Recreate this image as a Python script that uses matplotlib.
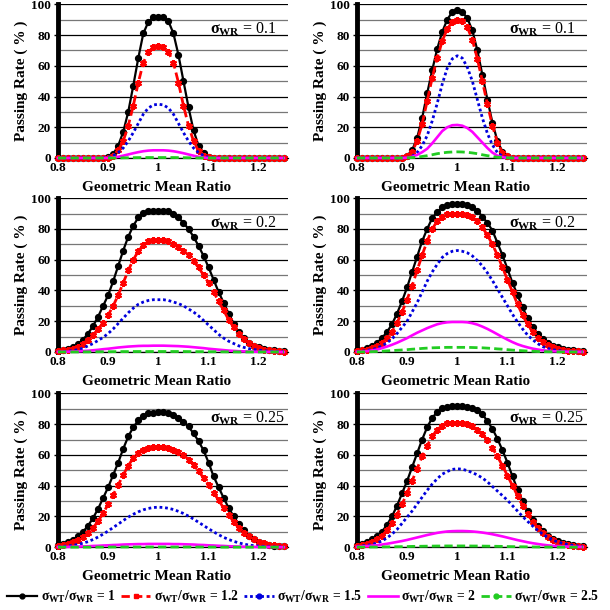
import numpy as np
import matplotlib
matplotlib.use("Agg")
import matplotlib.pyplot as plt
from matplotlib.lines import Line2D

plt.rcParams['font.family'] = ['Liberation Serif', 'DejaVu Serif']
plt.rcParams['mathtext.fontset'] = 'custom'
plt.rcParams['mathtext.rm'] = 'Liberation Serif:bold'
plt.rcParams['mathtext.it'] = 'Liberation Serif:bold'
plt.rcParams['mathtext.bf'] = 'Liberation Serif:bold'

# geometric mean ratio grid
gmr = [0.80, 0.81, 0.82, 0.83, 0.84, 0.85, 0.86, 0.87, 0.88, 0.89,
       0.90, 0.91, 0.92, 0.93, 0.94, 0.95, 0.96, 0.97, 0.98, 0.99,
       1.00, 1.01, 1.02, 1.03, 1.04, 1.05, 1.06, 1.07, 1.08, 1.09,
       1.10, 1.11, 1.12, 1.13, 1.14, 1.15, 1.16, 1.17, 1.18, 1.19,
       1.20, 1.21, 1.22, 1.23, 1.24, 1.25]

ratio_labels = ['1', '1.2', '1.5', '2', '2.5']
sigma_labels = ['0.1', '0.1', '0.2', '0.2', '0.25', '0.25']

# panel 1: top left, sigma_WR = 0.1
p1_r10 = [0, 0, 0, 0, 0, 0, 0, 0, 0, 0,
          0.5, 2.5, 8, 17, 30, 47, 65, 81, 88.5, 91.5,
          92, 91.5, 89, 81, 67, 50, 33, 18, 8, 3,
          0.8, 0, 0, 0, 0, 0, 0, 0, 0, 0, 0, 0, 0, 0, 0, 0]
p1_r12 = [0, 0, 0, 0, 0, 0, 0, 0, 0, 0,
          0.3, 1.5, 5, 11, 21, 34, 49, 62, 69, 72,
          73, 72, 69, 62, 49, 34, 21, 11, 4.5, 1.5,
          0.4, 0, 0, 0, 0, 0, 0, 0, 0, 0, 0, 0, 0, 0, 0, 0]
p1_r15 = [0, 0, 0, 0, 0, 0, 0, 0, 0, 0.1,
          0.5, 1.5, 3.5, 6.5, 11, 16.5, 22.5, 28.5, 32.5, 34.5,
          35, 34.5, 32.5, 28.5, 22.5, 16.5, 11, 6.5, 3.5, 1.5,
          0.5, 0.1, 0, 0, 0, 0, 0, 0, 0, 0, 0, 0, 0, 0, 0, 0]
p1_r20 = [0, 0, 0, 0, 0, 0, 0, 0, 0, 0,
          0, 0.3, 0.8, 1.5, 2.3, 3.1, 3.8, 4.4, 4.8, 5,
          5, 5, 4.8, 4.4, 3.8, 3.1, 2.3, 1.5, 0.8, 0.3,
          0, 0, 0, 0, 0, 0, 0, 0, 0, 0, 0, 0, 0, 0, 0, 0]
p1_r25 = [0, 0, 0, 0, 0, 0, 0, 0, 0, 0,
          0, 0, 0, 0.1, 0.15, 0.2, 0.25, 0.3, 0.3, 0.3,
          0.3, 0.3, 0.3, 0.3, 0.25, 0.2, 0.15, 0.1, 0, 0,
          0, 0, 0, 0, 0, 0, 0, 0, 0, 0, 0, 0, 0, 0, 0, 0]

# panel 2: top right, sigma_WR = 0.1
p2_r10 = [0, 0, 0, 0, 0, 0, 0, 0, 0, 0,
          1.5, 5, 13, 26, 42, 57, 71, 82, 90, 95,
          96.5, 95, 91, 83, 70, 54, 38, 23, 11, 4,
          1.2, 0.3, 0, 0, 0, 0, 0, 0, 0, 0, 0, 0, 0, 0, 0, 0]
p2_r12 = [0, 0, 0, 0, 0, 0, 0, 0, 0, 0,
          1, 4, 11, 22, 37, 52, 65, 76, 84, 88.5,
          90, 89, 85, 77, 64.5, 50, 35, 21, 10, 3.5,
          1, 0.2, 0, 0, 0, 0, 0, 0, 0, 0, 0, 0, 0, 0, 0, 0]
p2_r15 = [0, 0, 0, 0, 0, 0, 0, 0, 0, 0,
          0.3, 1, 3.5, 8, 14.5, 24, 35.5, 48, 58.5, 64.5,
          66.5, 65, 59, 50, 38, 26, 16, 8.5, 3.5, 1.2,
          0.3, 0, 0, 0, 0, 0, 0, 0, 0, 0, 0, 0, 0, 0, 0, 0]
p2_r20 = [0, 0, 0, 0, 0, 0, 0, 0, 0, 0,
          0.2, 0.8, 2, 3.8, 6, 9.5, 13.5, 17.5, 20, 21.3,
          21.5, 21, 19.5, 17, 13.5, 10, 6.5, 3.5, 1.5, 0.5,
          0.1, 0, 0, 0, 0, 0, 0, 0, 0, 0, 0, 0, 0, 0, 0, 0]
p2_r25 = [0, 0, 0, 0, 0, 0, 0, 0, 0, 0,
          0.1, 0.3, 0.5, 1, 1.5, 2.1, 2.8, 3.3, 3.7, 3.9,
          4, 3.9, 3.7, 3.3, 2.8, 2.1, 1.5, 1, 0.5, 0.3,
          0.1, 0, 0, 0, 0, 0, 0, 0, 0, 0, 0, 0, 0, 0, 0, 0]

# panel 3: middle left, sigma_WR = 0.2
p3_r10 = [1, 1.5, 2, 3, 5, 8, 12, 17, 23, 30,
          37, 46, 56, 66, 75, 82, 87.5, 90.5, 91.5, 92,
          92, 92, 91.5, 90, 87.5, 84, 80, 75, 69, 62.5,
          55, 47, 39, 32, 25, 18.5, 13, 9, 6, 4,
          3, 2, 1.5, 1, 0.7, 0.5]
p3_r12 = [0.5, 1, 1.5, 2, 3.5, 5.5, 8, 11, 15, 19,
          24, 30, 37, 45, 53, 60, 65.5, 69.5, 72, 73,
          73, 73, 72, 70.5, 68.5, 66, 63, 59, 55, 50,
          45, 39, 33, 27, 21, 16, 12, 8.5, 6, 4,
          2.5, 1.5, 1, 0.6, 0.4, 0.3]
p3_r15 = [0.2, 0.3, 0.5, 1, 1.5, 2.5, 4, 5.5, 7.5, 9.5,
          12, 15, 18.5, 22, 25.5, 28.5, 31, 32.5, 33.5, 34,
          34, 34, 33.5, 32.5, 31.5, 30, 28, 26, 23.5, 20.5,
          17.5, 14.5, 11.5, 9, 7, 5.5, 4, 3, 2.2, 1.6,
          1.2, 0.8, 0.5, 0.3, 0.2, 0.1]
p3_r20 = [0.1, 0.1, 0.2, 0.3, 0.4, 0.6, 0.8, 1.1, 1.4, 1.8,
          2.1, 2.5, 2.9, 3.2, 3.5, 3.7, 3.9, 4, 4, 4.1,
          4.1, 4.1, 4, 3.9, 3.8, 3.6, 3.4, 3.1, 2.8, 2.5,
          2.1, 1.8, 1.5, 1.2, 0.9, 0.7, 0.5, 0.4, 0.3, 0.2,
          0.1, 0.1, 0.1, 0, 0, 0]
p3_r25 = [0, 0, 0, 0, 0, 0.05, 0.05, 0.1, 0.1, 0.15,
          0.15, 0.2, 0.2, 0.25, 0.25, 0.3, 0.3, 0.3, 0.3, 0.3,
          0.3, 0.3, 0.3, 0.3, 0.3, 0.3, 0.25, 0.25, 0.2, 0.2,
          0.15, 0.15, 0.1, 0.1, 0.05, 0.05, 0, 0, 0, 0,
          0, 0, 0, 0, 0, 0]

# panel 4: middle right, sigma_WR = 0.2
p4_r10 = [1, 1.5, 2.5, 4, 6, 9, 13, 18, 25, 33,
          42, 52, 62, 72, 80, 87, 91, 94, 95.5, 96,
          96, 96, 95.5, 94, 92, 88, 84, 79, 71, 63,
          54, 45, 37, 29, 22, 16, 12, 8.5, 6, 4,
          3, 2, 1.5, 1, 0.8, 0.5]
p4_r12 = [0.5, 1, 1.5, 2.5, 4, 6, 9, 13, 19, 26,
          34, 43, 53, 63, 72, 80, 85, 88, 89.5, 90,
          90, 90, 89, 87.5, 85, 81, 76, 70, 63, 55,
          47, 39, 31, 24, 18, 13, 9, 6.5, 4.5, 3,
          2, 1.3, 0.9, 0.6, 0.4, 0.3]
p4_r15 = [0.3, 0.5, 1, 1.5, 2.5, 4, 6, 8.5, 12, 16,
          20, 26, 32, 39, 46, 52, 57, 61.5, 64, 65.5,
          66, 65.5, 64.5, 62.5, 59.5, 56, 51.5, 46.5, 41, 35.5,
          30, 24.5, 19.5, 15, 11, 8, 5.5, 3.5, 2.3, 1.5,
          1, 0.6, 0.4, 0.2, 0.1, 0.1]
p4_r20 = [0.2, 0.3, 0.5, 1, 1.5, 2.5, 3.5, 4.7, 6, 7.5,
          9, 10.8, 12.5, 14, 15.5, 16.8, 18, 18.8, 19.3, 19.5,
          19.5, 19.5, 19.3, 18.7, 17.8, 16.5, 15, 13.3, 11.5, 9.7,
          8, 6.4, 5, 3.9, 3, 2.2, 1.6, 1.1, 0.8, 0.5,
          0.4, 0.3, 0.2, 0.1, 0.1, 0.1]
p4_r25 = [0, 0.05, 0.1, 0.2, 0.3, 0.5, 0.7, 0.9, 1.1, 1.3,
          1.5, 1.8, 2, 2.3, 2.5, 2.7, 2.8, 2.9, 3, 3,
          3, 3, 3, 2.9, 2.8, 2.7, 2.5, 2.3, 2, 1.8,
          1.5, 1.2, 1, 0.8, 0.6, 0.5, 0.3, 0.2, 0.15, 0.1,
          0.05, 0, 0, 0, 0, 0]

# panel 5: bottom left, sigma_WR = 0.25
p5_r10 = [1.5, 2.2, 3.2, 4.8, 7, 10, 14, 19, 25, 32,
          39, 47, 55, 64, 72, 78, 82.5, 85.5, 87, 87.5,
          88, 88, 87, 86, 84, 81.5, 78.5, 74, 69, 63,
          55, 46, 39, 32, 25.5, 20, 15, 11, 7.5, 5,
          3.5, 2.3, 1.5, 1, 0.7, 0.5]
p5_r12 = [1, 1.5, 2.2, 3.2, 4.6, 6.5, 9, 12.5, 17, 22,
          28, 34, 40.5, 47, 53, 58, 61.5, 63.5, 64.5, 65,
          65, 65, 64.5, 63.5, 62, 60, 57, 53.5, 49.5, 45,
          40.5, 35.5, 30.5, 25.5, 21, 16.5, 12.5, 9.5, 7, 5,
          3.5, 2.4, 1.6, 1.1, 0.7, 0.5]
p5_r15 = [0.3, 0.5, 0.8, 1.2, 1.8, 2.6, 3.6, 5, 6.6, 8.5,
          10.5, 12.8, 15, 17.3, 19.5, 21.4, 23, 24.3, 25.2, 25.8,
          26, 25.8, 25.3, 24.5, 23.3, 21.9, 20.2, 18.3, 16.2, 14.1,
          12, 10, 8.1, 6.4, 5, 3.8, 2.8, 2, 1.4, 1,
          0.7, 0.5, 0.3, 0.2, 0.15, 0.1]
p5_r20 = [0.1, 0.1, 0.2, 0.3, 0.4, 0.5, 0.6, 0.8, 0.9, 1.1,
          1.2, 1.4, 1.5, 1.7, 1.8, 1.9, 2, 2, 2.1, 2.1,
          2.1, 2.1, 2.1, 2, 2, 1.9, 1.8, 1.7, 1.5, 1.4,
          1.2, 1.1, 0.9, 0.8, 0.6, 0.5, 0.4, 0.3, 0.2, 0.2,
          0.1, 0.1, 0.1, 0, 0, 0]
p5_r25 = [0, 0, 0, 0, 0, 0, 0, 0, 0.05, 0.05,
          0.05, 0.1, 0.1, 0.1, 0.1, 0.1, 0.1, 0.1, 0.1, 0.1,
          0.1, 0.1, 0.1, 0.1, 0.1, 0.1, 0.1, 0.1, 0.1, 0.1,
          0.05, 0.05, 0.05, 0, 0, 0, 0, 0, 0, 0,
          0, 0, 0, 0, 0, 0]

# panel 6: bottom right, sigma_WR = 0.25
p6_r10 = [1.5, 2.3, 3.5, 5, 7, 10, 14.5, 20, 27, 35,
          43, 52, 61, 70, 78, 84, 88, 90.5, 91.5, 92,
          92, 92, 91.5, 90.5, 89, 86.5, 82, 77, 70.5, 63,
          55, 46, 37.5, 30, 23.5, 18, 14, 10.5, 7.5, 5.5,
          4, 2.8, 2, 1.4, 1, 0.7]
p6_r12 = [1, 1.5, 2.3, 3.4, 5, 7.5, 11, 15.5, 21, 28,
          35, 43, 51, 59, 66, 72, 76.5, 79, 80.5, 81,
          81, 81, 80, 78.5, 76.5, 73.5, 69.5, 64.5, 59, 53,
          46.5, 40, 33.5, 27, 21.5, 16.5, 12.5, 9, 6.5, 4.5,
          3, 2, 1.4, 0.9, 0.6, 0.4]
p6_r15 = [0.5, 0.8, 1.2, 1.8, 2.7, 4, 6, 8.5, 11.5, 15.5,
          19.5, 23.5, 28, 32.5, 37, 41, 44.5, 47.5, 49.2, 50.6,
          51, 50.7, 49.8, 48.5, 47, 45, 42.5, 39.5, 36.5, 33.5,
          30.5, 27, 23.5, 20, 16.8, 13.8, 11, 8.5, 6.4, 4.7,
          3.4, 2.4, 1.7, 1.2, 0.8, 0.5]
p6_r20 = [0.3, 0.5, 0.7, 1, 1.3, 1.7, 2.2, 2.8, 3.4, 4,
          4.7, 5.5, 6.3, 7.1, 7.9, 8.6, 9.3, 9.8, 10.2, 10.4,
          10.5, 10.5, 10.4, 10.2, 9.9, 9.5, 9, 8.4, 7.7, 7,
          6.2, 5.4, 4.6, 3.9, 3.2, 2.6, 2.1, 1.6, 1.2, 0.9,
          0.7, 0.5, 0.4, 0.3, 0.2, 0.1]
p6_r25 = [0, 0.05, 0.05, 0.1, 0.1, 0.15, 0.2, 0.25, 0.3, 0.35,
          0.4, 0.5, 0.55, 0.6, 0.65, 0.7, 0.75, 0.75, 0.8, 0.8,
          0.8, 0.8, 0.8, 0.75, 0.75, 0.7, 0.65, 0.6, 0.55, 0.5,
          0.4, 0.35, 0.3, 0.25, 0.2, 0.15, 0.1, 0.1, 0.05, 0.05,
          0, 0, 0, 0, 0, 0]

panels = [
    [p1_r10, p1_r12, p1_r15, p1_r20, p1_r25],
    [p2_r10, p2_r12, p2_r15, p2_r20, p2_r25],
    [p3_r10, p3_r12, p3_r15, p3_r20, p3_r25],
    [p4_r10, p4_r12, p4_r15, p4_r20, p4_r25],
    [p5_r10, p5_r12, p5_r15, p5_r20, p5_r25],
    [p6_r10, p6_r12, p6_r15, p6_r20, p6_r25],
]

# line styles for the five sigma_WT/sigma_WR ratios
styles = [
    dict(color='black', ls='-', lw=1.6, marker='o', ms=4.2),
    dict(color='#ff0000', ls=(0, (3, 1.5)), lw=2.0, marker=(6, 2, 0), ms=5, mew=1.5),
    dict(color='#0000dd', ls=(0, (1, 1)), lw=2.0),
    dict(color='#ff00ff', ls='-', lw=1.9),
    dict(color='#22cc22', ls=(0, (3, 1.5)), lw=2.0),
]
# legend entries show a small marker on every line except magenta
leg_markers = ['o', 's', 'o', None, 'o']

fig = plt.figure(figsize=(6.1, 6.1), dpi=100)

lefts = [0.095, 0.585]
bottoms = [0.741, 0.423, 0.103]
w, h = 0.377, 0.252

for i, series in enumerate(panels):
    ax = fig.add_axes([lefts[i % 2], bottoms[i // 2], w, h])
    for j, yv in enumerate(series):
        ax.plot(gmr, yv, clip_on=False, zorder=3 + j, **styles[j])
    ax.set_xlim(0.8, 1.258)
    ax.set_ylim(0, 100)
    ax.set_yticks(np.arange(0, 101, 20))
    ax.set_yticks(np.arange(10, 100, 20), minor=True)
    ax.set_xticks([0.8, 0.9, 1.0, 1.1, 1.2])
    ax.set_xticklabels(['0.8', '0.9', '1', '1.1', '1.2'])
    ax.grid(axis='y', which='major', color='black', lw=0.9)
    ax.grid(axis='y', which='minor', color='#777777', lw=0.9)
    ax.set_axisbelow(True)
    for s in ['top', 'right']:
        ax.spines[s].set_visible(False)
    ax.spines['left'].set_linewidth(3.5)
    ax.spines['bottom'].set_linewidth(0.9)
    ax.tick_params(axis='y', which='minor', length=0)
    ax.tick_params(axis='y', which='major', length=3, width=1, pad=2)
    ax.tick_params(axis='x', length=0, pad=3)
    for t in ax.get_xticklabels() + ax.get_yticklabels():
        t.set_fontweight('bold')
        t.set_fontsize(9.5)
    ax.set_xlabel('Geometric Mean Ratio', fontsize=11, fontweight='bold')
    ax.xaxis.set_label_coords(0.43, -0.15)
    ax.set_ylabel('Passing Rate ( % )', fontsize=11, fontweight='bold')
    ax.yaxis.set_label_coords(-0.13, 0.5)
    ax.text(0.66, 0.84, r'$\sigma_{WR}$ = ' + sigma_labels[i], transform=ax.transAxes,
            fontsize=11.5, ha='left', va='center')

handles = []
for j in range(5):
    st = dict(styles[j])
    st.pop('marker', None)
    st.pop('ms', None)
    st.pop('mew', None)
    handles.append(Line2D([], [], marker=leg_markers[j], ms=3.5, **st))

fig.legend(handles, [r'$\sigma_{WT}/\sigma_{WR}$ = ' + r for r in ratio_labels],
           loc='center', bbox_to_anchor=(0.497, 0.022), ncol=5, frameon=False,
           prop={'size': 9.8, 'weight': 'bold'}, handlelength=2.2,
           handletextpad=0.25, columnspacing=0.4, borderaxespad=0,
           borderpad=0)

fig.savefig('out.png', dpi=100)
